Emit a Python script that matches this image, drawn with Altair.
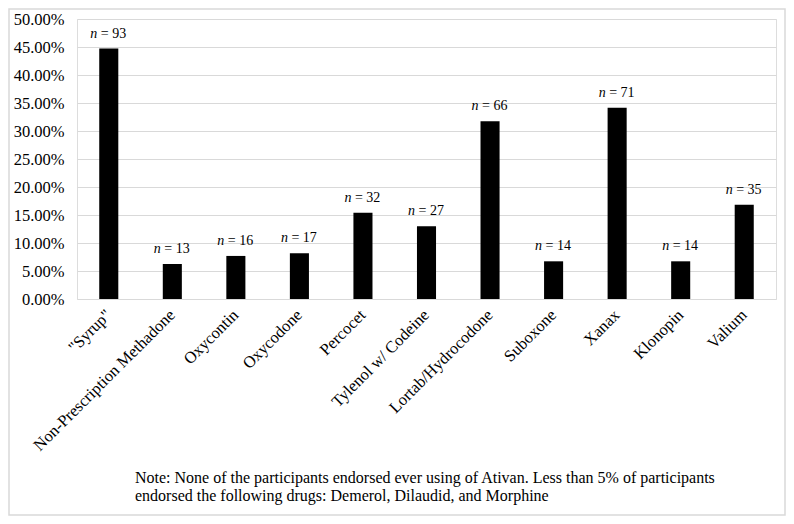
import altair as alt
import pandas as pd

drugs = ['"Syrup"', "Non-Prescription Methadone", "Oxycontin", "Oxycodone", "Percocet",
         "Tylenol w/ Codeine", "Lortab/Hydrocodone", "Suboxone", "Xanax", "Klonopin", "Valium"]
counts = [93, 13, 16, 17, 32, 27, 66, 14, 71, 14, 35]
percents = [0.4471, 0.0625, 0.0769, 0.0817, 0.1538, 0.1298, 0.3173, 0.0673, 0.3413, 0.0673, 0.1683]
y_ticks = [0, 0.05, 0.10, 0.15, 0.20, 0.25, 0.30, 0.35, 0.40, 0.45, 0.50]
note_lines = [
    "Note: None of the participants endorsed ever using of Ativan. Less than 5% of participants",
    "endorsed the following drugs: Demerol, Dilaudid, and Morphine",
]

FONT = "Liberation Serif"
W, H = 699, 280

df = pd.DataFrame({"drug": drugs, "n": counts, "pct": percents})
df["rest"] = ["= " + str(c) for c in counts]

x = alt.X("drug:N", sort=drugs, title=None,
          scale=alt.Scale(paddingInner=0.7, paddingOuter=0.35),
          axis=alt.Axis(labelAngle=-45, labelAlign="right", labelBaseline="middle",
                        labelPadding=13, ticks=False, domain=False, labelFont=FONT,
                        labelFontSize=16.5, labelColor="black", labelLimit=400,
                        labelOverlap=False))
y = alt.Y("pct:Q", title=None,
          scale=alt.Scale(domain=[0, 0.5], nice=False),
          axis=alt.Axis(values=y_ticks, format=".2%", ticks=False, domain=False,
                        gridColor="#d9d9d9", gridWidth=1, labelFont=FONT,
                        labelFontSize=16.5, labelColor="black", labelPadding=13,
                        labelOverlap=False, tickCount=11))

base = alt.Chart(df)
bars = base.mark_bar(color="black").encode(x=x, y=y)
n_text = base.mark_text(font=FONT, fontSize=14, fontStyle="italic", align="right",
                        baseline="alphabetic", dx=-11.5, dy=-11, color="black").encode(
    x=x, y=y, text=alt.value("n"))
rest_text = base.mark_text(font=FONT, fontSize=14, align="left",
                           baseline="alphabetic", dx=-8, dy=-11, color="black").encode(
    x=x, y=y, text="rest:N")

note_df = pd.DataFrame({"note": ["\n".join(note_lines)]})
note = alt.Chart(note_df).mark_text(
    font=FONT, fontSize=16, align="left", baseline="alphabetic", lineBreak="\n",
    lineHeight=18, color="black").encode(
    x=alt.value(58), y=alt.value(H + 184), text="note:N")

frame = alt.Chart(pd.DataFrame({"k": [0]})).mark_rect(
    filled=False, stroke="#d9d9d9", strokeWidth=1.5).encode(
    x=alt.value(-68), x2=alt.value(W + 9), y=alt.value(-10), y2=alt.value(H + 216))

chart = alt.layer(bars, n_text, rest_text, note, frame).properties(
    width=W, height=H,
    padding={"left": 69, "top": 11, "right": 10, "bottom": 217},
    autosize=alt.AutoSizeParams(type="none"),
).configure_view(stroke=None).configure(background="white", font=FONT)

chart.save("out.html", embed_options={"renderer": "svg", "actions": False})
